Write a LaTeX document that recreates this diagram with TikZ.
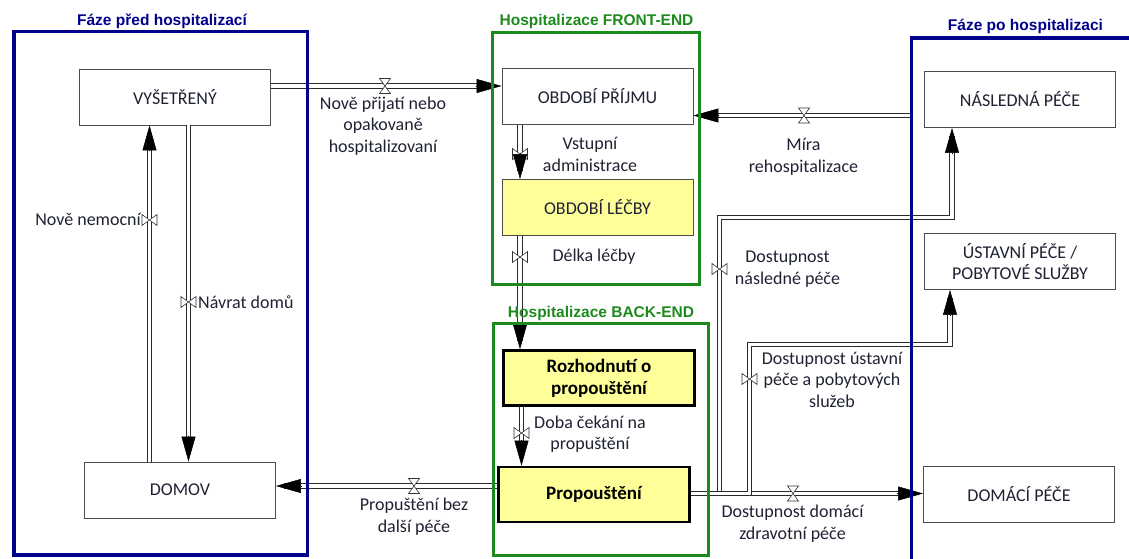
\documentclass[tikz,border=0pt]{standalone}
\usepackage{fontspec}
\setmainfont{Carlito}
\newfontfamily\headfont{Liberation Sans}
\usetikzlibrary{arrows.meta}

\definecolor{phaseblue}{HTML}{00008B}
\definecolor{hospgreen}{HTML}{1C8A1C}
\definecolor{stockfill}{HTML}{FFFF99}
\definecolor{ink}{HTML}{1F2233}
\definecolor{pipeline}{HTML}{2A2A2A}

\tikzset{
  valvestyle/.style={draw=black!80, line width=0.6pt, fill=white},
  hvalve/.pic={\path[valvestyle] (-5.5,-7.5) -- (5.5,-7.5) -- (-5.5,7.5) -- (5.5,7.5) -- cycle;},
  vvalve/.pic={\path[valvestyle] (-7.5,-5.5) -- (-7.5,5.5) -- (7.5,-5.5) -- (7.5,5.5) -- cycle;},
}

\begin{document}
\begin{tikzpicture}[x=1pt, y=-1pt,
  font=\fontsize{18}{21.5}\selectfont,
  stock/.style={draw=black!70, line width=0.9pt, fill=white, text=ink, align=center,
                inner sep=0pt, minimum width=191pt, minimum height=56pt},
  keystock/.style={draw=black, line width=2.6pt, fill=stockfill, text=black, align=center,
                inner sep=0pt, minimum width=191pt, minimum height=55pt,
                font=\fontsize{19}{22}\selectfont\bfseries},
  softstock/.style={stock, fill=stockfill},
  lbl/.style={text=ink, align=center, inner sep=0pt},
  pipe/.style={draw=pipeline, line width=1pt, double=white, double distance=3.6pt},
  flowtip/.style={draw=black, line width=0.5pt, -{Triangle[length=25pt, width=14pt]}},
  phase/.style={draw=phaseblue, line width=3.5pt},
  hosp/.style={draw=hospgreen, line width=3pt},
  phasetitle/.style={text=phaseblue, inner sep=0pt, font=\headfont\bfseries\fontsize{15.5}{18}\selectfont},
  hosptitle/.style={text=hospgreen, inner sep=0pt, font=\headfont\bfseries\fontsize{15.5}{18}\selectfont},
]
\useasboundingbox (0,0) rectangle (1129,558);

% ---------- stocks ----------
\node[stock] (vys)    at (175,97)    {VYŠETŘENÝ};
\node[stock] (domov)  at (180,490)   {DOMOV};
\node[stock] (prijem) at (597.5,96.5) {OBDOBÍ PŘÍJMU};
\node[softstock] (lecba) at (597.5,207.5) {OBDOBÍ LÉČBY};
\node[keystock] (rozh) at (599,378)  {Rozhodnutí o\\propouštění};
\node[keystock] (prop) at (594,494.5) {Propouštění};
\node[stock] (nasl)   at (1020,99.5) {NÁSLEDNÁ PÉČE};
\node[stock] (ustav)  at (1020,261.5) {ÚSTAVNÍ PÉČE /\\POBYTOVÉ SLUŽBY};
\node[stock] (domaci) at (1019,494)  {DOMÁCÍ PÉČE};
\coordinate (reh) at (911.5,115.5);

% ---------- flows ----------
% admission
\draw[pipe, shorten >=8pt] ([yshift=11pt]vys.east) -- ([yshift=10.5pt]prijem.west);
\pic at (385,86) {hvalve};
\draw[flowtip] ([shift={(-26pt,10.5pt)}]prijem.west) -- ([yshift=10.5pt]prijem.west);

% admission -> treatment
\draw[pipe, shorten >=8pt] ([xshift=-77.5pt]prijem.south) -- ([xshift=-77.5pt]lecba.north);
\pic at (520,154) {vvalve};
\draw[flowtip] ([shift={(-77.5pt,26pt)}]lecba.north) -- ([xshift=-77.5pt]lecba.north);

% treatment -> discharge decision
\draw[pipe, shorten >=8pt] ([xshift=-77.5pt]lecba.south) -- ([xshift=-79pt]rozh.north);
\pic at (520,257) {vvalve};
\draw[flowtip] ([shift={(-79pt,26pt)}]rozh.north) -- ([xshift=-79pt]rozh.north);

% decision -> discharge
\draw[pipe, shorten >=8pt] ([xshift=-77.5pt]rozh.south) -- ([xshift=-72.5pt]prop.north);
\pic at (521.5,433) {vvalve};
\draw[flowtip] ([shift={(-72.5pt,26pt)}]prop.north) -- ([xshift=-72.5pt]prop.north);

% discharge home
\draw[pipe, shorten >=8pt] ([yshift=8.5pt]prop.west) -- ([yshift=4pt]domov.east);
\pic at (414,486) {hvalve};
\draw[flowtip] ([shift={(26pt,4pt)}]domov.east) -- ([yshift=4pt]domov.east);

% discharge to home care
\draw[pipe, shorten >=8pt] ([yshift=1pt]prop.east) -- ([yshift=0.5pt]domaci.west);
\pic at (793,493.5) {hvalve};
\draw[flowtip] ([shift={(-26pt,0.5pt)}]domaci.west) -- ([yshift=0.5pt]domaci.west);

% discharge to follow-up care
\draw[pipe, shorten >=8pt] ([yshift=1pt]prop.east) -| (719.5,217.5) -| ([xshift=-68pt]nasl.south);
\pic at (719.5,269) {vvalve};
\draw[flowtip] ([shift={(-68pt,-26pt)}]nasl.south) -- ([xshift=-68pt]nasl.south);

% discharge to institutional care
\draw[pipe, shorten >=8pt] ([yshift=1pt]prop.east) -| (749.5,344.5) -| ([xshift=-70pt]ustav.south);
\pic at (749.5,379) {vvalve};
\draw[flowtip] ([shift={(-70pt,-26pt)}]ustav.south) -- ([xshift=-70pt]ustav.south);

% readmission
\draw[pipe, shorten >=8pt] (reh) -- ([yshift=-19pt]prijem.east);
\pic at (804,115.5) {hvalve};
\draw[flowtip] ([shift={(26pt,-19pt)}]prijem.east) -- ([yshift=-19pt]prijem.east);

% newly ill
\draw[pipe, shorten >=8pt] ([xshift=-30.5pt]domov.north) -- ([xshift=-25.5pt]vys.south);
\pic at (149.5,220) {vvalve};
\draw[flowtip] ([shift={(-25.5pt,-26pt)}]vys.south) -- ([xshift=-25.5pt]vys.south);

% return home
\draw[pipe, shorten >=8pt] ([xshift=13.5pt]vys.south) -- ([xshift=8.5pt]domov.north);
\pic at (188.5,302) {vvalve};
\draw[flowtip] ([shift={(8.5pt,26pt)}]domov.north) -- ([xshift=8.5pt]domov.north);

% ---------- flow labels ----------
\node[lbl] (lnove)   at (383,126)   {Nově přijatí nebo\\opakovaně\\hospitalizovaní};
\node[lbl] (lvstup)  at (590,154.5) {Vstupní\\administrace};
\node[lbl] (ldelka)  at (594,257)   {Délka léčby};
\node[lbl] (ldoba)   at (590,434)   {Doba čekání na\\propuštění};
\node[lbl] (lprop)   at (414,516.5) {Propuštění bez\\další péče};
\node[lbl] (ldomaci) at (792.5,523.5) {Dostupnost domácí\\zdravotní péče};
\node[lbl] (lnasl)   at (787.5,269) {Dostupnost\\následné péče};
\node[lbl] (lustav)  at (832,379.5) {Dostupnost ústavní\\péče a pobytových\\služeb};
\node[lbl] (lmira)   at (803.5,157) {Míra\\rehospitalizace};
\node[lbl, anchor=east] (lnemoc)  at (141,219) {Nově nemocní};
\node[lbl, anchor=west] (lnavrat) at (198,302) {Návrat domů};

% ---------- phase frames ----------
\draw[phase] (14,31.5) rectangle (307.5,555);
\draw[hosp]  (492,32) rectangle (699.5,284.5);
\draw[hosp]  (493,323.5) rectangle (708,555.5);
\draw[phase] (911.5,570) -- (911.5,38) -- (1140,38);

\node[phasetitle] (tpred)  at (162,21)    {Fáze před hospitalizací};
\node[hosptitle]  (tfront) at (596.5,21)  {Hospitalizace FRONT-END};
\node[hosptitle]  (tback)  at (601,313)   {Hospitalizace BACK-END};
\node[phasetitle] (tpo)    at (1025.5,26) {Fáze po hospitalizaci};
\end{tikzpicture}
\end{document}
